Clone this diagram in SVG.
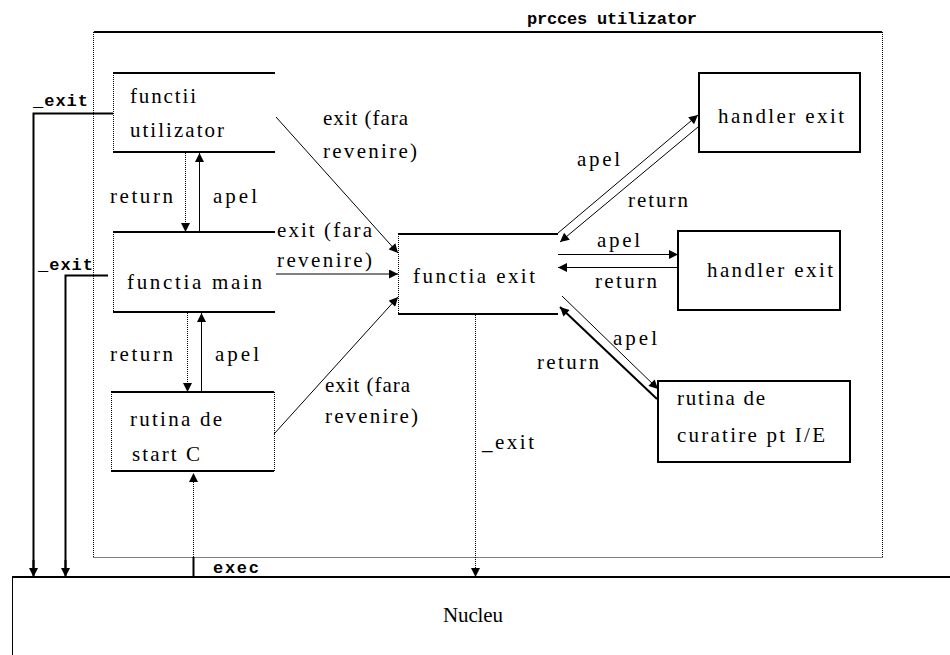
<svg xmlns="http://www.w3.org/2000/svg" width="950" height="655" viewBox="0 0 950 655">
<style>
.t{font-family:"Liberation Serif","Times New Roman",serif;font-size:21px;fill:#000}
.b{font-family:"Liberation Mono","Courier New",monospace;font-weight:bold;font-size:17px;fill:#000}
.edge{stroke:#000;stroke-width:2;fill:none}
.dot{stroke:#000;stroke-width:1;stroke-dasharray:1,1;fill:none}
.ln{stroke:#000;stroke-width:1;fill:none}
.arr{marker-end:url(#ah)}
</style>
<defs>
<marker id="ah" viewBox="0 0 10 10" refX="10" refY="5" markerWidth="10" markerHeight="9" markerUnits="userSpaceOnUse" orient="auto"><path d="M0,0 L10,5 L0,10 z" fill="#000"/></marker>
</defs>
<rect width="950" height="655" fill="#fff"/>

<g id="proces">
<line class="dot" x1="93.5" y1="32" x2="93.5" y2="557.5"/>
<line class="dot" x1="93.5" y1="557.5" x2="882.5" y2="557.5"/>
<line class="dot" x1="882.5" y1="32" x2="882.5" y2="557.5"/>
<line class="edge" x1="94" y1="32" x2="882" y2="32"/>
<text class="b" x="527" y="24" textLength="170">prcces utilizator</text>
</g>

<g id="nucleu">
<line class="edge" x1="12" y1="577" x2="950" y2="577"/>
<line class="ln" x1="12.5" y1="577" x2="12.5" y2="655"/>
<text class="t" x="443" y="622" textLength="60">Nucleu</text>
</g>

<g id="functii-utilizator">
<line class="edge" x1="113" y1="73" x2="275" y2="73"/>
<line class="edge" x1="113" y1="152" x2="275" y2="152"/>
<line class="dot" x1="113.5" y1="73" x2="113.5" y2="152"/>
<text class="t" x="130" y="103" textLength="66">functii</text>
<text class="t" x="130" y="137" textLength="94">utilizator</text>
</g>

<g id="functia-main">
<line class="edge" x1="113" y1="232" x2="275" y2="232"/>
<line class="edge" x1="113" y1="312" x2="275" y2="312"/>
<line class="dot" x1="113.5" y1="232" x2="113.5" y2="312"/>
<text class="t" x="127" y="289" textLength="135">functia main</text>
</g>

<g id="rutina-start">
<line class="edge" x1="111" y1="392" x2="274" y2="392"/>
<line class="edge" x1="111" y1="471" x2="274" y2="471"/>
<line class="dot" x1="111.5" y1="392" x2="111.5" y2="471"/>
<line class="dot" x1="274.5" y1="392" x2="274.5" y2="471"/>
<text class="t" x="130" y="426" textLength="92">rutina de</text>
<text class="t" x="132" y="461" textLength="68">start C</text>
</g>

<g id="functia-exit">
<line class="edge" x1="398" y1="234" x2="558" y2="234"/>
<line class="edge" x1="398" y1="314" x2="558" y2="314"/>
<line class="dot" x1="398.5" y1="234" x2="398.5" y2="314"/>
<text class="t" x="413" y="283" textLength="122">functia exit</text>
</g>

<g id="handler-exit-1">
<rect x="699" y="73" width="161" height="79" fill="none" stroke="#000" stroke-width="2"/>
<text class="t" x="718" y="123" textLength="126">handler exit</text>
</g>

<g id="handler-exit-2">
<rect x="678" y="231" width="162" height="79" fill="none" stroke="#000" stroke-width="2"/>
<text class="t" x="707" y="277" textLength="126">handler exit</text>
</g>

<g id="rutina-curatire">
<rect x="658" y="381" width="192" height="81" fill="none" stroke="#000" stroke-width="2"/>
<text class="t" x="677" y="405" textLength="88">rutina de</text>
<text class="t" x="677" y="442" textLength="148">curatire pt I/E</text>
</g>

<g id="connectors">
<line class="ln arr" x1="276" y1="117" x2="398" y2="253"/>
<line class="ln arr" x1="276" y1="274" x2="398" y2="274"/>
<line class="ln arr" x1="274" y1="434" x2="398" y2="297"/>
<line class="dot arr" x1="185.5" y1="153" x2="185.5" y2="232"/>
<line class="ln arr" x1="199.5" y1="232" x2="199.5" y2="153"/>
<line class="dot arr" x1="187.5" y1="313" x2="187.5" y2="392"/>
<line class="ln arr" x1="201.5" y1="392" x2="201.5" y2="313"/>
<polyline class="edge" points="113,113.5 33.5,113.5 33.5,570"/>
<line class="edge arr" x1="33.5" y1="560" x2="33.5" y2="577"/>
<polyline class="edge" points="108,275.5 65.5,275.5 65.5,570"/>
<line class="edge arr" x1="65.5" y1="560" x2="65.5" y2="577"/>
<line class="edge" x1="193.5" y1="577" x2="193.5" y2="557"/>
<line class="dot arr" x1="193.5" y1="557" x2="193.5" y2="473"/>
<line class="dot arr" x1="475.5" y1="315" x2="475.5" y2="577"/>
<line class="ln arr" x1="558" y1="233" x2="698" y2="115"/>
<line class="ln arr" x1="698" y1="127" x2="560" y2="242"/>
<line class="ln arr" x1="558" y1="254.5" x2="678" y2="254.5"/>
<line class="ln arr" x1="678" y1="267.5" x2="558" y2="267.5"/>
<line class="ln arr" x1="562" y1="296" x2="658" y2="389"/>
<line class="edge arr" x1="657" y1="399" x2="560" y2="307"/>

<text class="b" x="33" y="106" textLength="55">_exit</text>
<text class="b" x="38" y="270" textLength="55">_exit</text>
<text class="b" x="213" y="573" textLength="46">exec</text>
<text class="t" x="482" y="449" textLength="52">_exit</text>

<text class="t" x="323" y="125" textLength="85">exit (fara</text>
<text class="t" x="323" y="158" textLength="94">revenire)</text>
<text class="t" x="277" y="237" textLength="95">exit (fara</text>
<text class="t" x="277" y="267" textLength="95">revenire)</text>
<text class="t" x="325" y="392" textLength="85">exit (fara</text>
<text class="t" x="325" y="423" textLength="93">revenire)</text>

<text class="t" x="110" y="203" textLength="63">return</text>
<text class="t" x="213" y="203" textLength="44">apel</text>
<text class="t" x="110" y="361" textLength="63">return</text>
<text class="t" x="215" y="361" textLength="44">apel</text>

<text class="t" x="577" y="166" textLength="43">apel</text>
<text class="t" x="628" y="207" textLength="60">return</text>
<text class="t" x="597" y="247" textLength="43">apel</text>
<text class="t" x="595" y="288" textLength="62">return</text>
<text class="t" x="613" y="345" textLength="44">apel</text>
<text class="t" x="537" y="369" textLength="62">return</text>
</g>
</svg>
